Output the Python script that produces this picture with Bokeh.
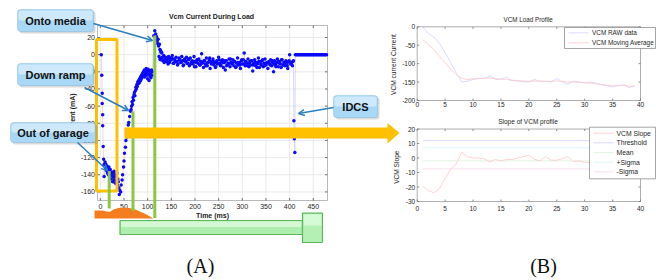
import numpy as np
from bokeh.plotting import figure
from bokeh.models import Range1d, BoxAnnotation, Label, Arrow, OpenHead
from bokeh.core.properties import value
from bokeh.embed import file_html
from bokeh.resources import INLINE

# ---------------- data: panel (A) VCM current during load ----------------
load_t = [2, 3, 4, 4, 5, 5, 6, 7, 8, 8,
          10, 11, 12, 13, 14, 15, 16, 17, 18, 19,
          20, 21, 22, 23, 24, 25, 26, 27, 28, 29,
          30, 31, 32, 33, 34, 35, 36, 37, 38, 39,
          40, 41, 43, 44, 46, 47, 49, 50, 51, 53,
          54, 56, 57, 59, 60, 62, 64, 65, 66, 67,
          68, 69, 70, 71, 72, 73, 74, 75, 76, 77,
          78, 79, 80, 81, 82, 83, 84, 85, 86, 87,
          88, 89, 90, 91, 92, 93, 94, 95, 96, 97,
          98, 99, 100, 101, 102, 103, 104, 105, 106, 107,
          108, 109, 110, 113, 115, 117, 118, 119, 120, 121,
          122, 123, 125, 126, 128, 130]
load_ma = [0, -24, -45, -57, -70, -83, -107, -122, -128, -142,
           -125, -132, -128, -135, -130, -138, -133, -140, -131, -136,
           -142, -134, -139, -145, -137, -141, -148, -138, -143, -136,
           -146, -140, -150, -142, -147, -138, -152, -145, -148, -155,
           -163, -158, -160, -152, -146, -140, -131, -124, -115, -108,
           -100, -96, -88, -82, -79, -72, -66, -64, -60, -55,
           -58, -50, -53, -47, -44, -48, -42, -38, -40, -35,
           -37, -32, -34, -30, -33, -28, -31, -26, -29, -24,
           -27, -22, -25, -20, -23, -18, -26, -19, -22, -16,
           -24, -20, -28, -17, -23, -30, -19, -25, -21, -27,
           -18, -24, -20, 22, 28, 24, 18, 21, 16, 13,
           18, 10, 12, 6, 4, 2]

noise_t = [124, 126, 128, 130, 132, 134, 136, 138, 140, 142,
           144, 146, 148, 150, 152, 154, 156, 158, 160, 162,
           164, 166, 168, 170, 172, 174, 176, 178, 180, 182,
           184, 186, 188, 190, 192, 194, 196, 198, 200, 202,
           204, 206, 208, 210, 212, 214, 216, 218, 220, 222,
           224, 226, 228, 230, 232, 234, 236, 238, 240, 242,
           244, 246, 248, 250, 252, 254, 256, 258, 260, 262,
           264, 266, 268, 270, 272, 274, 276, 278, 280, 282,
           284, 286, 288, 290, 292, 294, 296, 298, 300, 302,
           304, 306, 308, 310, 312, 314, 316, 318, 320, 322,
           324, 326, 328, 330, 332, 334, 336, 338, 340, 342,
           344, 346, 348, 350, 352, 354, 356, 358, 360, 362,
           364, 366, 368, 370, 372, 374, 376, 378, 380, 382,
           384, 386, 388, 390, 392, 394, 396, 398, 400, 402,
           404, 406, 408]
noise_ma = [-2, -5, 3, -4, -7, -1, -6, -3, -8, -5,
            -2, -9, -4, -6, -1, -10, -5, -7, -3, -8,
            -11, -4, -6, -9, -2, -7, -12, -5, -8, -3,
            -10, -6, -13, -4, -9, -7, -11, -2, -8, -14,
            -6, -10, -5, -12, -8, 1, -9, -15, -7, -11,
            -4, -13, -9, -6, -16, -8, -10, -5, -12, -9,
            -14, -7, -11, -3, -10, -13, -8, -6, -15, -9,
            -18, -7, -12, -10, -5, -14, -9, -11, -6, -13,
            -8, -15, -10, -4, -12, -9, -16, -7, -11, -6,
            2, -13, -9, -10, -5, -14, -8, -12, -7, -19,
            -10, -6, -13, -9, -11, -4, -15, -8, -12, -7,
            -14, -10, -5, -12, -9, -16, -8, -11, -6, -13,
            -9, -20, -7, -12, -10, -5, -14, -8, -11, -15,
            -6, -12, -9, -13, -7, -10, -16, -8, 0, -11,
            -9, -13, -7]

noise2_t = [127, 131, 135, 139, 143, 147, 151, 155, 159, 163,
            167, 171, 175, 179, 183, 187, 191, 195, 199, 203,
            207, 211, 215, 219, 223, 227, 231, 235, 239, 243,
            247, 251, 255, 259, 263, 267, 271, 275, 279, 283,
            287, 291, 295, 299, 303, 307, 311, 315, 319, 323,
            327, 331, 335, 339, 343, 347, 351, 355, 359, 363,
            367, 371, 375, 379, 383, 387, 391, 395, 399, 403,
            407]
noise2_ma = [-6, -3, -9, -5, -11, -7, -4, -10, -8, -12,
             -6, -9, -13, -7, -10, -5, -11, -8, -14, -9,
             -6, -12, -10, -7, -13, -9, -4, -11, -8, -15,
             -10, -6, -12, -9, -7, -13, -11, -5, -10, -8,
             -14, -9, -12, -6, -11, -8, -13, -10, -7, -12,
             -9, -15, -8, -11, -6, -13, -10, -9, -12, -7,
             -11, -14, -8, -10, -6, -12, -9, -13, -7, -10,
             -8]

idcs_t = [409, 410, 411]
idcs_ma = [-77, -98, -114]

hold_t = [412, 414, 416, 418, 420, 422, 424, 426, 428, 430,
          432, 434, 436, 438, 440, 442, 444, 446, 448, 450,
          452, 454, 456, 458, 460, 462, 464, 466, 468, 470,
          472, 474, 476, 478]
hold_ma = [0, 0, 0, 0, 0, 0, 0, 0, 0, 0,
           0, 0, 0, 0, 0, 0, 0, 0, 0, 0,
           0, 0, 0, 0, 0, 0, 0, 0, 0, 0,
           0, 0, 0, 0]

time_ticks = [0, 50, 100, 150, 200, 250, 300, 350, 400, 450]
current_ticks = [20, 0, -20, -40, -60, -80, -100, -120, -140, -160]

# ---------------- data: panel (B) ----------------
profile_idx = [1, 2, 3, 4, 5, 6, 7, 8, 9, 10,
               11, 12, 13, 14, 15, 16, 17, 18, 19, 20,
               21, 22, 23, 24, 25, 26, 27, 28, 29, 30,
               31, 32, 33, 34, 35, 36, 37, 38, 39]
vcm_raw = [0, -18, -28, -45, -70, -97, -125, -150, -148, -143,
           -140, -140, -133, -143, -142, -137, -146, -147, -149, -150,
           -143, -148, -148, -150, -140, -150, -156, -147, -150, -152,
           -150, -153, -157, -160, -163, -160, -157, -165, -160]
vcm_avg = [-35, -48, -62, -80, -98, -115, -130, -140, -143, -141,
           -140, -140, -139, -141, -142, -143, -145, -146, -147, -148,
           -147, -147, -148, -148, -147, -148, -150, -150, -150, -152,
           -153, -155, -157, -158, -160, -160, -159, -161, -160]
vcm_slope = [-19.5, -22.5, -24, -21, -14, -7.5, -4, 4, 1, 0,
             0, -0.5, -2.5, -1, -2, -1, -1, 0, 1, 2,
             -1, -2, 1, -1.5, -1.5, -0.5, 1, -2.5, -2, -3,
             -3, -2, -4, -3, -2, -1, -4, -2, -3]
slope_span = [1, 39]
threshold = [12, 12]
slope_mean = [-2, -2]
plus_sigma = [7, 7]
minus_sigma = [-7.5, -7.5]

idx_ticks = [0, 5, 10, 15, 20, 25, 30, 35, 40]
load_ticks = [0, -50, -100, -150, -200]
slope_ticks = [20, 10, 0, -10, -20, -30]

# ---------------- canvas (coordinates = screenshot pixels) ----------------
X0, X1, Y0, Y1 = 0, 656, 0, 280
SANS = "Liberation Sans"
SERIF = "Liberation Serif"

p = figure(width=X1 - X0, height=Y1 - Y0, x_range=Range1d(X0, X1), y_range=Range1d(Y1, Y0),
           x_axis_type=None, y_axis_type=None, toolbar_location=None,
           output_backend="svg", min_border=0, title=None)
p.outline_line_color = None
p.background_fill_color = "white"
p.border_fill_color = "white"

C_RAW, C_AVG, C_SLOPE = "#d2d2ff", "#ffc6c6", "#ffc8c8"
C_THR, C_MEAN, C_PSIG, C_NSIG = "#d0d0ff", "#dcf2dc", "#d4f2f2", "#f6d8ee"


def text(xs, ys, labels, size, xr="default", yr="default", align="center",
         baseline="middle", style="normal", angle=0.0, color="#262626", font=SANS):
    p.text(x=list(xs), y=list(ys), text=list(labels), x_range_name=xr, y_range_name=yr,
           text_font=value(font), text_font_size=f"{size}px", text_font_style=style,
           text_align=align, text_baseline=baseline, angle=angle, text_color=color)


class Panel:
    def __init__(self, name, left, right, top, bottom, xlim, ylim):
        self.xr, self.yr = name + "x", name + "y"
        self.xlim, self.ylim = xlim, ylim
        self.dx = (xlim[1] - xlim[0]) / (right - left)
        self.dy = (ylim[1] - ylim[0]) / (bottom - top)
        p.extra_x_ranges = {**p.extra_x_ranges,
                            self.xr: Range1d(xlim[0] + (X0 - left) * self.dx,
                                             xlim[0] + (X1 - left) * self.dx)}
        p.extra_y_ranges = {**p.extra_y_ranges,
                            self.yr: Range1d(ylim[1] - (Y1 - top) * self.dy,
                                             ylim[1] + (top - Y0) * self.dy)}

    def kw(self):
        return dict(x_range_name=self.xr, y_range_name=self.yr)

    def grid(self, xt, yt, color):
        n, m = len(xt), len(yt)
        p.segment(x0=xt, x1=xt, y0=[self.ylim[0]] * n, y1=[self.ylim[1]] * n,
                  line_color=color, line_width=0.8, **self.kw())
        p.segment(x0=[self.xlim[0]] * m, x1=[self.xlim[1]] * m, y0=yt, y1=yt,
                  line_color=color, line_width=0.8, **self.kw())

    def frame(self, xt, yt, color, tick_color, L=2.5):
        p.quad(left=[self.xlim[0]], right=[self.xlim[1]], bottom=[self.ylim[0]],
               top=[self.ylim[1]], fill_color=None, line_color=color, line_width=0.8,
               **self.kw())
        n, m = len(xt), len(yt)
        lx, ly = L * self.dx, L * self.dy
        x0s = list(xt) * 2
        y0s = [self.ylim[0]] * n + [self.ylim[1]] * n
        y1s = [self.ylim[0] + ly] * n + [self.ylim[1] - ly] * n
        p.segment(x0=x0s, x1=x0s, y0=y0s, y1=y1s, line_color=tick_color,
                  line_width=0.8, **self.kw())
        ys = list(yt) * 2
        xs0 = [self.xlim[0]] * m + [self.xlim[1]] * m
        xs1 = [self.xlim[0] + lx] * m + [self.xlim[1] - lx] * m
        p.segment(x0=xs0, x1=xs1, y0=ys, y1=ys, line_color=tick_color,
                  line_width=0.8, **self.kw())

    def xlabels(self, xt, off, size, style="normal"):
        text(xt, [self.ylim[0] - off * self.dy] * len(xt), [str(v) for v in xt], size,
             xr=self.xr, yr=self.yr, style=style)

    def ylabels(self, yt, off, size, style="normal"):
        text([self.xlim[0] - off * self.dx] * len(yt), yt, [str(v) for v in yt], size,
             xr=self.xr, yr=self.yr, align="right", style=style)


# ---------------- panel A ----------------
A = Panel("A", 97, 327, 25, 200, (-6, 480), (-170, 34))
A.grid(time_ticks, current_ticks, "#e4e4e4")
A.frame(time_ticks, current_ticks, "#a8a8a8", "#555555")
A.xlabels(time_ticks, 5.5, 7)
A.ylabels(current_ticks, 2.5, 7)
text([212], [214.5], ["Time (ms)"], 7, style="bold", color="#222222")
text([72], [114.5], ["Current (mA)"], 7, style="bold", angle=np.pi / 2, color="#222222")
text([211], [16], ["Vcm Current During Load"], 7, style="bold", color="#222222")

all_t = np.array(load_t + noise_t + noise2_t + idcs_t + hold_t, dtype=float)
all_ma = np.array(load_ma + noise_ma + noise2_ma + idcs_ma + hold_ma, dtype=float)
order = np.argsort(all_t, kind="stable")
p.line(all_t[order], all_ma[order], line_color="#c0c0ff", line_width=0.6, **A.kw())
p.scatter(all_t, all_ma, size=3.5, fill_color="#0a0aff", line_color=None, **A.kw())

# garage box, green markers, orange hump
p.quad(left=[96], right=[116.5], top=[39], bottom=[190.5], fill_color=None,
       line_color="#FFC000", line_width=3)
p.patch([94, 94, 102, 106, 109, 113, 118, 123, 129, 136, 144, 153],
        [218, 210, 210, 211, 211.5, 209, 207.5, 207, 207.5, 209.5, 213, 218],
        fill_color="#F47D20", line_color=None)
p.segment(x0=[108.7, 132.5, 154.3], x1=[108.7, 132.5, 154.3],
          y0=[170.5, 111, 35], y1=[208, 210.5, 217.5],
          line_color="#8DC63F", line_width=3)

# slider
p.quad(left=[119.5], right=[302], top=[220], bottom=[234], fill_color="#b0eeb0",
       line_color=None)
p.quad(left=[120.5], right=[301], top=[221], bottom=[226.5], fill_color="#dcfadc",
       line_color=None, fill_alpha=0.85)
p.quad(left=[119.5], right=[302], top=[220], bottom=[234], fill_color=None,
       line_color="#5fb85f", line_width=1.2)
p.quad(left=[302], right=[322], top=[212.7], bottom=[242], fill_color="#b4efb4",
       line_color=None)
p.quad(left=[303], right=[321], top=[213.7], bottom=[225], fill_color="#dcfadc",
       line_color=None, fill_alpha=0.85)
p.quad(left=[302], right=[322], top=[212.7], bottom=[242], fill_color=None,
       line_color="#5fb85f", line_width=1.2)

# big orange arrow
p.patch([124, 387, 387, 399, 387, 387, 124],
        [127, 127, 122.5, 132.5, 143, 138, 138],
        fill_color="#FFC000", line_color=None)

# ---------------- panel B (top) ----------------
B1 = Panel("B1", 416.7, 640, 26.3, 100, (0, 40), (-200, 0))
p.line(profile_idx, vcm_raw, line_color=C_RAW, line_width=0.8, **B1.kw())
p.line(profile_idx, vcm_avg, line_color=C_AVG, line_width=0.8, **B1.kw())
B1.frame(idx_ticks, load_ticks, "#999999", "#777777", L=2)
B1.xlabels(idx_ticks, 4, 6.5)
B1.ylabels(load_ticks, 2, 6.5)
text([527.7], [18.5], ["VCM Load Profile"], 6.3)
text([393], [64], ["VCM current Current"], 6.6, angle=np.pi / 2)
p.quad(left=[564], right=[655], top=[27], bottom=[48], fill_color="white",
       line_color="#808080", line_width=0.7)
p.segment(x0=[568, 568], x1=[588, 588], y0=[32.3, 42.3], y1=[32.3, 42.3],
          line_color=[C_RAW, C_AVG], line_width=0.8)
text([591.5, 591.5], [32.3, 42.3], ["VCM RAW data", "VCM Moving Average"], 6.4,
     align="left")

# ---------------- panel B (bottom) ----------------
B2 = Panel("B2", 416.7, 640, 128.5, 201, (0, 40), (-30, 20))
p.line(slope_span, threshold, line_color=C_THR, line_width=0.8, **B2.kw())
p.line(slope_span, plus_sigma, line_color=C_PSIG, line_width=0.8, **B2.kw())
p.line(slope_span, slope_mean, line_color=C_MEAN, line_width=0.8, **B2.kw())
p.line(slope_span, minus_sigma, line_color=C_NSIG, line_width=0.8, **B2.kw())
p.line(profile_idx, vcm_slope, line_color=C_SLOPE, line_width=0.8, **B2.kw())
B2.frame(idx_ticks, slope_ticks, "#999999", "#777777", L=2)
B2.xlabels(idx_ticks, 6.5, 6.5)
B2.ylabels(slope_ticks, 2, 6.5)
text([527.5], [121], ["Slope of VCM profile"], 6.5)
text([396], [166.7], ["VCM Slope"], 6.6, angle=np.pi / 2)
p.quad(left=[589], right=[655], top=[126.7], bottom=[178.3], fill_color="white",
       line_color="#808080", line_width=0.7)
leg_y = [132.7, 142.3, 152, 161.7, 171.3]
p.segment(x0=[593] * 5, x1=[613] * 5, y0=leg_y, y1=leg_y,
          line_color=[C_SLOPE, C_THR, C_MEAN, C_PSIG, C_NSIG], line_width=0.8)
text([616] * 5, leg_y, ["VCM Slope", "Threshold", "Mean", "+Sigma", "-Sigma"], 6.8,
     align="left")

# ---------------- captions ----------------
text([200], [265], ["(A)"], 20, font=SERIF, color="#111111")
text([543], [265], ["(B)"], 20, font=SERIF, color="#111111")

# ---------------- callouts ----------------
callouts = [
    ("Onto media", 17, 93, 9, 31),
    ("Down ramp", 17, 93, 63, 85),
    ("Out of garage", 10, 95, 122, 142),
    ("IDCS", 333, 377, 95, 117),
]
for label, l, r, t, b in callouts:
    p.add_layout(BoxAnnotation(left=l + 2, right=r + 2, top=t + 2, bottom=b + 2,
                               fill_color="#808080", fill_alpha=0.3, line_color=None,
                               border_radius=3))
    p.add_layout(BoxAnnotation(left=l, right=r, top=t, bottom=b, fill_color="#a9d7f6",
                               fill_alpha=1.0, line_color="#5a9fd4", line_width=1,
                               border_radius=3))
    p.add_layout(BoxAnnotation(left=l + 1, right=r - 1, top=t + 1, bottom=(t + b) / 2,
                               fill_color="#d6eefc", fill_alpha=0.8, line_color=None,
                               border_radius=2))
    p.add_layout(Label(x=(l + r) / 2, y=(t + b) / 2, text=label, text_font=SANS,
                       text_font_size="11px", text_font_style="bold",
                       text_align="center", text_baseline="middle",
                       text_color="#111111"))

pointers = [
    (93, 23, 152, 40),
    (84, 87, 128, 110),
    (77, 142, 107, 170),
    (333, 107, 298, 113),
]
for xs, ys, xe, ye in pointers:
    p.add_layout(Arrow(x_start=xs, y_start=ys, x_end=xe, y_end=ye,
                       line_color="#2a7fc1", line_width=1.5,
                       end=OpenHead(size=6, line_color="#2a7fc1", line_width=1.5)))

open("out.html", "w").write(file_html(p, INLINE))
